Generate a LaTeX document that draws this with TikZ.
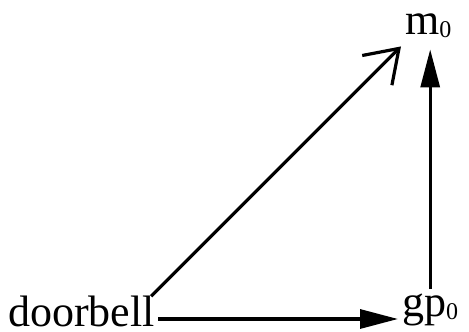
\documentclass[tikz,border=0pt]{standalone}
\usepackage{fontspec}
\setmainfont{Liberation Serif}
\usepackage{tikz}
\usetikzlibrary{arrows.meta}
\newcommand{\idx}[1]{\raisebox{-3pt}{\fontsize{24}{24}\selectfont #1}}

\begin{document}
\begin{tikzpicture}[
  x=1pt, y=1pt,
  font=\fontsize{44}{52}\selectfont,
  lbl/.style={inner sep=0pt, anchor=base west},
  link/.style={line width=3.2pt, -{Triangle[length=38pt,width=19pt]}},
  openlink/.style={line width=3.2pt, -{Straight Barb[length=31pt,width=42pt]}}
]
\useasboundingbox (0,0) rectangle (469,332);
\node[lbl] (db) at (8,5)     {doorbell};
\node[lbl] (gp) at (402,15)  {gp\idx{0}};
\node[lbl] (m)  at (405,297) {m\idx{0}};
\coordinate (gptop) at ([yshift=5pt]gp.north);
\coordinate (mbot)  at ([yshift=-11pt]m.south);
\draw[link] ([shift={(3pt,8pt)}]db.base east) -- ([shift={(-4pt,-2pt)}]gp.base west);
\draw[link] (gptop) -- (gptop |- mbot);
\draw[openlink] ([xshift=-4pt]db.north east) -- ([shift={(-4pt,-8pt)}]m.south west);
\end{tikzpicture}
\end{document}
